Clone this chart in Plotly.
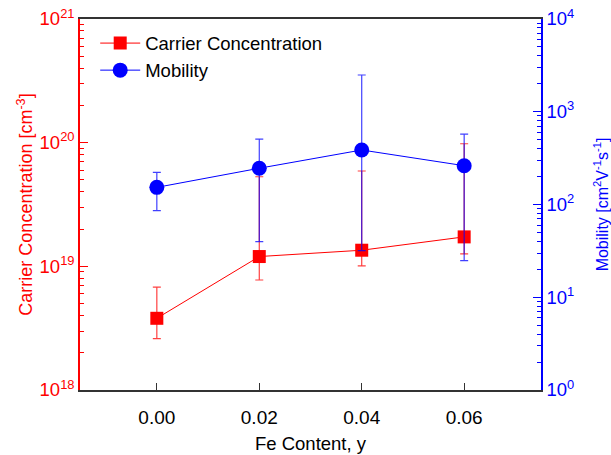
import plotly.graph_objects as go

fe_content = [0.00, 0.02, 0.04, 0.06]
carrier_conc = [3.8e18, 1.2e19, 1.35e19, 1.73e19]
carrier_upper = [6.8e18, 5.3e19, 5.9e19, 9.8e19]
carrier_lower = [2.6e18, 7.75e18, 1.01e19, 1.26e19]
mobility = [153, 246, 387, 262]
mobility_upper = [222, 508, 2490, 575]
mobility_lower = [85.7, 39.7, 31.8, 24.8]

x_ticks = [0.00, 0.02, 0.04, 0.06]
x_ticktext = ["0.00", "0.02", "0.04", "0.06"]
y1_exps = [18, 19, 20, 21]
y2_exps = [0, 1, 2, 3, 4]

RED = "#ff0000"
BLUE = "#0000ff"
FONT = "Liberation Sans, Arial, sans-serif"

fig = go.Figure()

fig.add_trace(go.Scatter(
    x=fe_content, y=carrier_conc, name="Carrier Concentration",
    mode="lines+markers",
    line=dict(color=RED, width=1),
    marker=dict(symbol="square", size=13, color=RED),
    error_y=dict(type="data", symmetric=False,
                 array=[u - v for u, v in zip(carrier_upper, carrier_conc)],
                 arrayminus=[v - l for v, l in zip(carrier_conc, carrier_lower)],
                 color="rgba(255,0,0,0.75)", thickness=1.2, width=4),
    yaxis="y",
))

fig.add_trace(go.Scatter(
    x=fe_content, y=mobility, name="Mobility",
    mode="lines+markers",
    line=dict(color=BLUE, width=1),
    marker=dict(symbol="circle", size=15, color=BLUE),
    error_y=dict(type="data", symmetric=False,
                 array=[u - v for u, v in zip(mobility_upper, mobility)],
                 arrayminus=[v - l for v, l in zip(mobility, mobility_lower)],
                 color="rgba(0,0,255,0.75)", thickness=1.2, width=4),
    yaxis="y2",
))

fig.update_layout(
    width=611, height=455,
    margin=dict(l=80, r=70, t=19, b=65, autoexpand=False),
    paper_bgcolor="white", plot_bgcolor="white",
    font=dict(family=FONT, size=16, color="black"),
    showlegend=True,
    legend=dict(x=0.033, y=0.985, xanchor="left", yanchor="top",
                bgcolor="rgba(0,0,0,0)", font=dict(size=18.5),
                tracegroupgap=0, itemwidth=40),
    xaxis=dict(
        range=[-0.015, 0.075], tickvals=x_ticks, ticktext=x_ticktext,
        ticks="inside", ticklen=7, tickcolor="#333", tickwidth=1,
        showline=True, linecolor="#333", linewidth=1.5, mirror=True,
        showgrid=False, zeroline=False, automargin=False,
        ticklabelstandoff=9,
        title=dict(text="Fe Content, y", font=dict(size=18.5), standoff=11),
        tickfont=dict(size=19),
    ),
    yaxis=dict(
        type="log", range=[18, 21], automargin=False,
        tickvals=[10.0 ** e for e in y1_exps],
        ticktext=["10<sup>%d</sup>" % e for e in y1_exps],
        ticks="inside", ticklen=8, tickcolor=RED, tickwidth=1,
        ticklabeloverflow="allow",
        minor=dict(ticks="inside", ticklen=4, tickcolor=RED,
                   tickvals=[m * 10.0 ** e for e in y1_exps[:-1] for m in range(2, 10)]),
        showline=True, linecolor=RED, linewidth=1.5,
        showgrid=False, zeroline=False,
        tickfont=dict(color=RED, size=18.5),
        title=dict(text="Carrier Concentration [cm<sup>-3</sup>]",
                   font=dict(color=RED, size=18), standoff=2),
    ),
    yaxis2=dict(
        type="log", range=[0, 4], overlaying="y", side="right", automargin=False,
        tickvals=[10.0 ** e for e in y2_exps],
        ticktext=["10<sup>%d</sup>" % e for e in y2_exps],
        ticks="inside", ticklen=8, tickcolor=BLUE, tickwidth=1,
        ticklabeloverflow="allow",
        minor=dict(ticks="inside", ticklen=4, tickcolor=BLUE,
                   tickvals=[m * 10.0 ** e for e in y2_exps[:-1] for m in range(2, 10)]),
        showline=True, linecolor=BLUE, linewidth=1.5,
        showgrid=False, zeroline=False,
        tickfont=dict(color=BLUE, size=18.5),
        title=dict(text="Mobility [cm<sup>2</sup>V<sup>-1</sup>s<sup>-1</sup>]",
                   font=dict(color=BLUE, size=16), standoff=27),
    ),
)

fig.write_html("out.html",
               config={"displayModeBar": False},
               post_script="document.body.style.margin='0';document.body.style.overflow='hidden';")
